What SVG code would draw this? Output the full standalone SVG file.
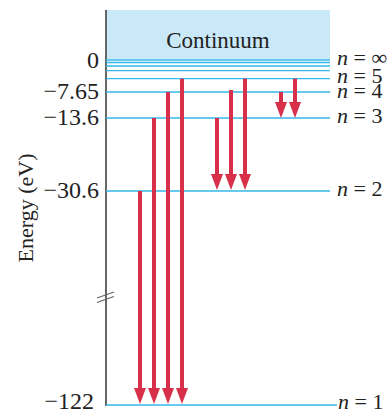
<svg xmlns="http://www.w3.org/2000/svg" width="390" height="413" viewBox="0 0 390 413">
<defs>
<style>
.lvl{stroke:#33b8ea;stroke-width:1.3;fill:none}
.arr{stroke:#d8304a;stroke-width:4;fill:none}
.head{fill:#d8304a}
.num{font-family:"Liberation Serif",serif;font-size:24px;fill:#222;text-anchor:end}
.lab{font-family:"Liberation Serif",serif;font-size:22px;fill:#222}
.it{font-style:italic}
</style>
<marker id="ah" viewBox="0 0 16 12" refX="0" refY="6" markerWidth="16" markerHeight="12" markerUnits="userSpaceOnUse" orient="auto">
<path d="M0,0 L16,6 L0,12 Z" class="head"/>
</marker>
</defs>
<rect width="390" height="413" fill="#fff"/>
<g id="continuum">
<rect x="106" y="10" width="224" height="49" fill="#c9e9f8"/>
<text x="218" y="48" text-anchor="middle" font-family="Liberation Serif, serif" font-size="23" fill="#222">Continuum</text>
</g>
<g id="axis">
<line x1="106" y1="10" x2="106" y2="406" stroke="#666" stroke-width="2"/>
<line x1="97" y1="298" x2="114" y2="292" stroke="#666" stroke-width="1.2"/>
<line x1="97" y1="302.5" x2="114" y2="296.5" stroke="#666" stroke-width="1.2"/>
<text transform="translate(33,208) rotate(-90)" text-anchor="middle" font-family="Liberation Serif, serif" font-size="22" fill="#222">Energy (eV)</text>
</g>
<g id="levels">
<line class="lvl" x1="106" y1="60" x2="330" y2="60"/>
<line class="lvl" x1="106" y1="62.5" x2="330" y2="62.5"/>
<line class="lvl" x1="106" y1="66" x2="330" y2="66"/>
<line class="lvl" x1="106" y1="70.7" x2="330" y2="70.7"/>
<line class="lvl" x1="106" y1="78.7" x2="330" y2="78.7"/>
<line class="lvl" x1="106" y1="92" x2="330" y2="92"/>
<line class="lvl" x1="106" y1="118" x2="330" y2="118"/>
<line class="lvl" x1="106" y1="191" x2="330" y2="191"/>
<line class="lvl" x1="106" y1="405" x2="337" y2="405"/>
</g>
<g id="energy-labels">
<text class="num" x="99" y="68">0</text>
<text class="num" x="99" y="99">−7.65</text>
<text class="num" x="99" y="125">−13.6</text>
<text class="num" x="99" y="198">−30.6</text>
<text class="num" x="94" y="409">−122</text>
</g>
<g id="n-labels">
<text class="lab" x="337" y="65"><tspan class="it">n</tspan> = ∞</text>
<text class="lab" x="337" y="83"><tspan class="it">n</tspan> = 5</text>
<text class="lab" x="337" y="98"><tspan class="it">n</tspan> = 4</text>
<text class="lab" x="337" y="123"><tspan class="it">n</tspan> = 3</text>
<text class="lab" x="337" y="196"><tspan class="it">n</tspan> = 2</text>
<text class="lab" x="338" y="409"><tspan class="it">n</tspan> = 1</text>
</g>
<g id="connectors">
<line class="arr" x1="140" y1="191" x2="140" y2="388" marker-end="url(#ah)"/>
<line class="arr" x1="154" y1="118" x2="154" y2="388" marker-end="url(#ah)"/>
<line class="arr" x1="168" y1="92" x2="168" y2="388" marker-end="url(#ah)"/>
<line class="arr" x1="182" y1="78.7" x2="182" y2="388" marker-end="url(#ah)"/>
<line class="arr" x1="217" y1="118" x2="217" y2="174" marker-end="url(#ah)"/>
<line class="arr" x1="231" y1="90" x2="231" y2="174" marker-end="url(#ah)"/>
<line class="arr" x1="245" y1="78.7" x2="245" y2="174" marker-end="url(#ah)"/>
<line class="arr" x1="281" y1="92" x2="281" y2="102" marker-end="url(#ah)"/>
<line class="arr" x1="295" y1="78.7" x2="295" y2="102" marker-end="url(#ah)"/>
</g>
</svg>
